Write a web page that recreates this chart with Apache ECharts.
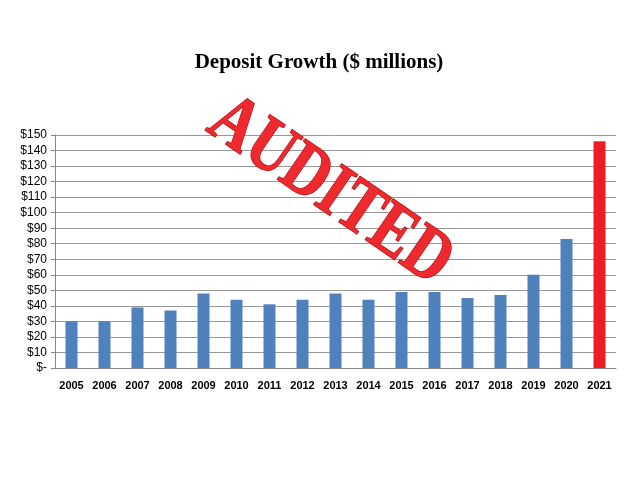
<!DOCTYPE html>
<html>
<head>
<meta charset="utf-8">
<script src="https://cdn.jsdelivr.net/npm/echarts@6/dist/echarts.min.js"></script>
</head>
<body style="margin:0">
<div id="main" style="width:638px;height:480px;"></div>
<script>
var years = ['2005','2006','2007','2008','2009','2010','2011','2012','2013','2014','2015','2016','2017','2018','2019','2020','2021'];
var deposits = [30,30,39,37,48,44,41,44,48,44,49,49,45,47,60,83,146];

var chart = echarts.init(document.getElementById('main'));
chart.setOption({
  animation: false,
  title: {
    text: 'Deposit Growth ($ millions)', left: 'center', top: 47,
    textStyle: { fontFamily: 'Liberation Serif', fontSize: 21, fontWeight: 'bold', color: '#000' }
  },
  grid: { left: 55, right: 22, top: 135, bottom: 112 },
  xAxis: {
    type: 'category', data: years,
    axisLine: { lineStyle: { color: '#888' } },
    axisTick: { show: false },
    axisLabel: { color: '#000', fontWeight: 'bold', fontFamily: 'Liberation Sans', fontSize: 11, interval: 0, margin: 12 }
  },
  yAxis: {
    type: 'value', min: 0, max: 150, interval: 10,
    axisLine: { show: true, lineStyle: { color: '#888' } },
    axisTick: { show: true, length: 4, lineStyle: { color: '#888' } },
    splitLine: { lineStyle: { color: '#999' } },
    axisLabel: { color: '#000', fontFamily: 'Liberation Sans', fontSize: 12,
      formatter: function (v) { return v === 0 ? '$-' : '$' + v; } }
  },
  series: [{
    type: 'bar', barWidth: 12,
    data: deposits.map(function (v, i) {
      return { value: v, itemStyle: { color: i === deposits.length - 1 ? '#ee1c25' : '#4f81bd' } };
    })
  }],
  graphic: [{
    type: 'text', x: 330, y: 192, rotation: -0.6, z: 100, scaleY: 1.25,
    style: {
      text: 'AUDITED', font: 'bold 60px "Liberation Serif"',
      fill: '#ee2a2e', stroke: '#b01018', lineWidth: 1.2,
      align: 'center', verticalAlign: 'middle'
    }
  }]
});
</script>
</body>
</html>
